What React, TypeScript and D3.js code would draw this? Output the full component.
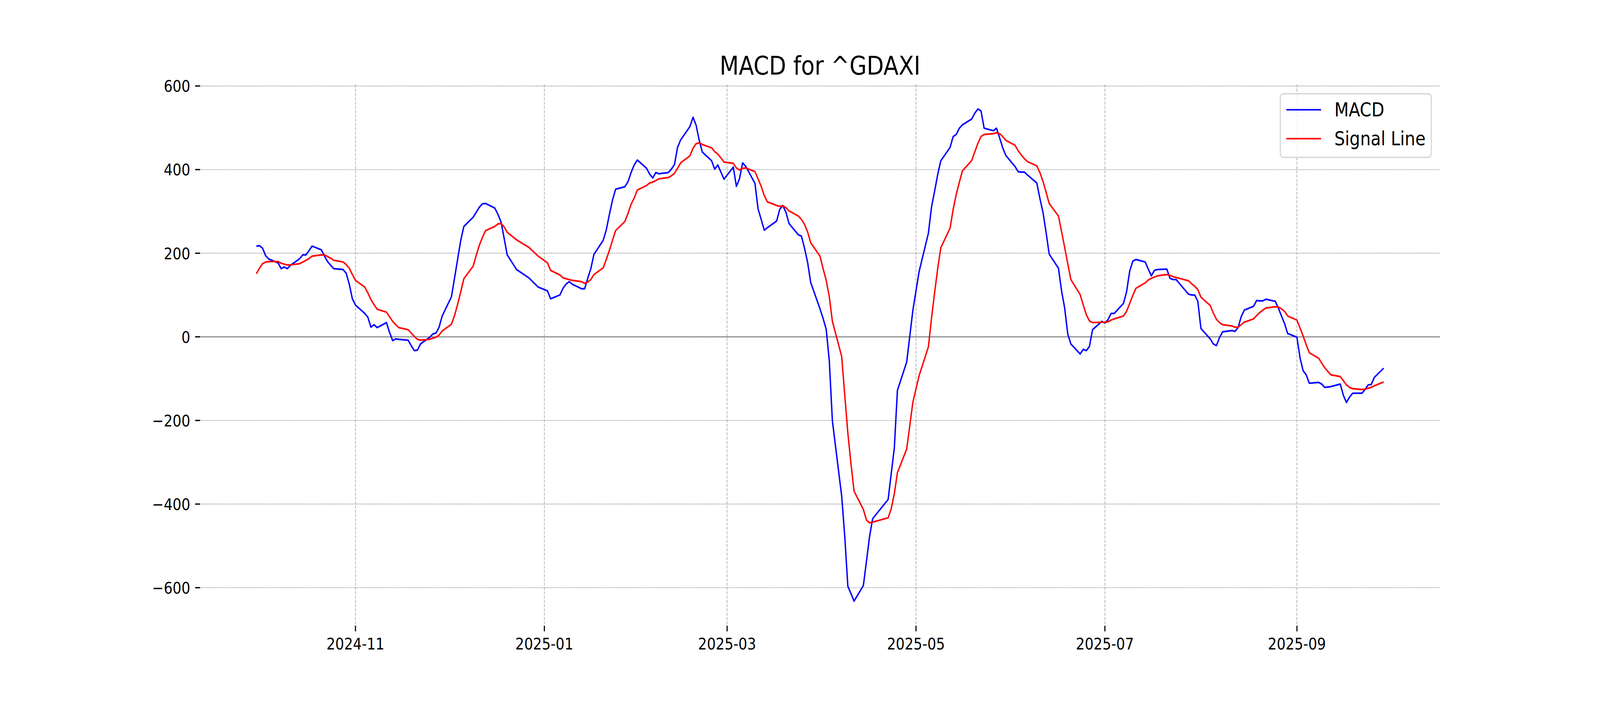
import React from "react";
import * as d3 from "d3";

// ---- data ----
const START_DATE = "2024-09-30";
const END_DATE = "2025-09-29";
const marketHolidays = ["2024-12-24", "2024-12-25", "2024-12-26", "2024-12-31", "2025-01-01", "2025-04-18", "2025-04-21", "2025-05-01"];

// MACD values per month (trading days; Oct block starts with 2024-09-30)
const macdOct = [217, 218, 212, 194, 186, 177, 163, 167, 163, 171, 187, 196, 196, 206, 217, 208, 193, 180, 171, 163, 161, 152, 126, 91];
const macdNov = [76, 56, 47, 23, 29, 22, 34, 11, -9, -5, -6, -8, -21, -33, -32, -17, -1, 7, 9, 23, 50];
const macdDec = [96, 141, 186, 231, 264, 286, 298, 310, 318, 319, 308, 293, 275, 236, 196, 161, 141, 119];
const macdJan = [110, 91, 100, 116, 126, 132, 126, 115, 115, 140, 163, 197, 231, 256, 293, 327, 353, 359, 371, 393, 411, 423];
const macdFeb = [403, 389, 380, 393, 390, 393, 401, 412, 453, 471, 503, 525, 506, 470, 442, 421, 401, 411, 394, 377];
const macdMar = [406, 360, 378, 416, 408, 367, 306, 281, 255, 261, 277, 305, 314, 298, 271, 244, 241, 212, 178, 130, 67];
const macdApr = [44, 18, -57, -201, -381, -478, -597, -614, -632, -595, -537, -478, -435, -389, -327, -266, -128, -60, 2, 64];
const macdMay = [156, 248, 310, 348, 388, 421, 453, 479, 484, 499, 507, 521, 535, 545, 540, 499, 493, 499, 476, 452, 434];
const macdJun = [407, 395, 394, 394, 387, 368, 331, 298, 250, 198, 164, 110, 69, 7, -17, -41, -30, -33, -23, 17, 37];
const macdJul = [33, 41, 56, 56, 80, 108, 157, 181, 185, 179, 162, 146, 159, 161, 162, 140, 137, 137, 128, 102, 100, 100, 85];
const macdAug = [20, -5, -17, -21, -2, 12, 15, 13, 22, 48, 64, 73, 87, 86, 86, 90, 85, 69, 50, 32, 8];
const macdSep = [-1, -50, -81, -91, -111, -109, -113, -121, -120, -119, -113, -140, -157, -144, -135, -135, -126, -115, -114, -97, -75];

// Signal line values per month
const signalOct = [151, 164, 175, 179, 180, 180, 176, 174, 172, 172, 175, 179, 183, 187, 193, 196, 196, 192, 188, 183, 179, 173, 164, 149];
const signalNov = [135, 119, 105, 89, 77, 66, 59, 48, 37, 29, 22, 17, 9, 1, -6, -8, -6, -3, -1, 4, 14];
const signalDec = [30, 51, 78, 108, 139, 169, 195, 219, 238, 254, 264, 270, 271, 263, 250, 232, 214, 193];
const signalJan = [177, 159, 148, 141, 139, 137, 135, 132, 128, 131, 137, 149, 165, 185, 207, 231, 254, 276, 295, 317, 332, 351];
const signalFeb = [362, 368, 370, 374, 378, 381, 385, 391, 403, 416, 433, 451, 462, 464, 460, 452, 443, 437, 428, 418];
const signalMar = [415, 404, 399, 403, 404, 395, 378, 360, 338, 323, 314, 312, 313, 309, 301, 289, 281, 269, 251, 225, 193];
const signalApr = [163, 135, 96, 37, -47, -140, -231, -303, -369, -413, -438, -445, -443, -433, -411, -375, -325, -268, -212, -156];
const signalMay = [-93, -24, 44, 105, 163, 213, 260, 305, 341, 370, 397, 422, 443, 463, 479, 484, 486, 488, 486, 479, 470];
const signalJun = [458, 445, 435, 426, 419, 409, 393, 372, 346, 319, 289, 252, 214, 175, 137, 101, 76, 53, 38, 34, 35];
const signalJul = [35, 36, 40, 43, 50, 61, 80, 99, 116, 129, 136, 140, 143, 146, 149, 147, 144, 142, 140, 134, 127, 121, 113];
const signalAug = [95, 75, 57, 42, 34, 29, 26, 23, 23, 29, 35, 43, 51, 58, 64, 69, 72, 71, 67, 61, 50];
const signalSep = [40, 21, 2, -19, -38, -51, -63, -74, -83, -91, -95, -105, -115, -121, -124, -126, -125, -123, -121, -117, -108];

const yTickValues = [-600, -400, -200, 0, 200, 400, 600];
const xTickLabels = ["2024-11", "2025-01", "2025-03", "2025-05", "2025-07", "2025-09"];

const TITLE = "MACD for ^GDAXI";
const SERIES_NAMES = ["MACD", "Signal Line"];

// ---- build table ----
const parseDay = d3.timeParse("%Y-%m-%d");
const fmtDay = d3.timeFormat("%Y-%m-%d");
const parseMonth = d3.timeParse("%Y-%m");

const tradingDays: Date[] = d3.timeDay
  .range(parseDay(START_DATE)!, d3.timeDay.offset(parseDay(END_DATE)!, 1))
  .filter((d) => d.getDay() !== 0 && d.getDay() !== 6 && !marketHolidays.includes(fmtDay(d)));

const macdValues = [
  ...macdOct, ...macdNov, ...macdDec, ...macdJan, ...macdFeb, ...macdMar,
  ...macdApr, ...macdMay, ...macdJun, ...macdJul, ...macdAug, ...macdSep,
];
const signalValues = [
  ...signalOct, ...signalNov, ...signalDec, ...signalJan, ...signalFeb, ...signalMar,
  ...signalApr, ...signalMay, ...signalJun, ...signalJul, ...signalAug, ...signalSep,
];

const n = Math.min(tradingDays.length, macdValues.length, signalValues.length);
const rows = d3.range(n).map((i) => ({ date: tradingDays[i], macd: macdValues[i], signal: signalValues[i] }));

// ---- layout (in 4800x1800 figure units) ----
const W = 4800;
const H = 1800;
const AX_L = 600;
const AX_R = 4320;
const AX_T = 216;
const AX_B = 1602;
const FONT = "'DejaVu Sans', Verdana, sans-serif";
const TICK_FS = 41.67;

export default function App() {
  const t0 = rows[0].date.getTime();
  const t1 = rows[n - 1].date.getTime();
  const tPad = (t1 - t0) * 0.05;
  const x = d3.scaleTime().domain([new Date(t0 - tPad), new Date(t1 + tPad)]).range([AX_L, AX_R]);

  const allVals = rows.flatMap((r) => [r.macd, r.signal]);
  const [vMin, vMax] = d3.extent(allVals) as [number, number];
  const vPad = (vMax - vMin) * 0.05;
  const y = d3.scaleLinear().domain([vMin - vPad, vMax + vPad]).range([AX_B, AX_T]);

  const lineMacd = d3.line<(typeof rows)[number]>().x((d) => x(d.date)).y((d) => y(d.macd));
  const lineSignal = d3.line<(typeof rows)[number]>().x((d) => x(d.date)).y((d) => y(d.signal));

  const xTicks = xTickLabels.map((s) => ({ label: s, date: parseMonth(s)! }));
  const fmtY = (v: number) => (v < 0 ? "\u2212" + Math.abs(v) : String(v));

  return (
    <div style={{ position: "fixed", left: 0, top: 0, width: "100vw", height: "100vh", background: "#fff", overflow: "hidden" }}>
      <svg width="100%" height="100%" viewBox={`0 0 ${W} ${H}`} preserveAspectRatio="none"
        style={{ display: "block", fontFamily: FONT }}>
        <rect x={0} y={0} width={W} height={H} fill="#ffffff" />

        {/* vertical grid */}
        {xTicks.map((t) => (
          <line key={"vg" + t.label} x1={x(t.date)} x2={x(t.date)} y1={AX_T} y2={AX_B}
            stroke="#b0b0b0" strokeWidth={2.1} strokeDasharray="7.7,3.3" />
        ))}
        {/* horizontal grid */}
        {yTickValues.map((v) => (
          <line key={"hg" + v} x1={AX_L} x2={AX_R} y1={y(v)} y2={y(v)}
            stroke="#b0b0b0" strokeWidth={2.1} strokeDasharray="4.4,1.9" />
        ))}

        {/* zero line */}
        <line x1={AX_L} x2={AX_R} y1={y(0)} y2={y(0)} stroke="#808080" strokeWidth={2.6} />

        {/* series */}
        <path d={lineMacd(rows) ?? ""} fill="none" stroke="#0000ff" strokeWidth={4.17} strokeLinejoin="round" />
        <path d={lineSignal(rows) ?? ""} fill="none" stroke="#ff0000" strokeWidth={4.17} strokeLinejoin="round" />

        {/* y ticks */}
        {yTickValues.map((v) => (
          <g key={"yt" + v}>
            <line x1={AX_L - 14.6} x2={AX_L} y1={y(v)} y2={y(v)} stroke="#000" strokeWidth={3.33} />
            <text x={AX_L - 29.2} y={y(v) + 15.2} textAnchor="end" fontSize={TICK_FS} fill="#000">
              {fmtY(v)}
            </text>
          </g>
        ))}

        {/* x ticks */}
        {xTicks.map((t) => (
          <g key={"xt" + t.label}>
            <line x1={x(t.date)} x2={x(t.date)} y1={AX_B} y2={AX_B + 14.6} stroke="#000" strokeWidth={3.33} />
            <text x={x(t.date)} y={AX_B + 61.5} textAnchor="middle" fontSize={TICK_FS} fill="#000">
              {t.label}
            </text>
          </g>
        ))}

        {/* title */}
        <text x={(AX_L + AX_R) / 2} y={191} textAnchor="middle" fontSize={66.67} fill="#000">
          {TITLE}
        </text>

        {/* legend */}
        <g>
          <rect x={3841} y={240} width={453} height={163} rx={10} ry={10}
            fill="#ffffff" fillOpacity={0.8} stroke="#cccccc" strokeOpacity={0.8} strokeWidth={3.33} />
          <line x1={3859} x2={3963} y1={281} y2={281} stroke="#0000ff" strokeWidth={4.17} />
          <text x={4003} y={298.5} fontSize={50} fill="#000">{SERIES_NAMES[0]}</text>
          <line x1={3859} x2={3963} y1={355} y2={355} stroke="#ff0000" strokeWidth={4.17} />
          <text x={4003} y={372.5} fontSize={50} fill="#000">{SERIES_NAMES[1]}</text>
        </g>
      </svg>
    </div>
  );
}
